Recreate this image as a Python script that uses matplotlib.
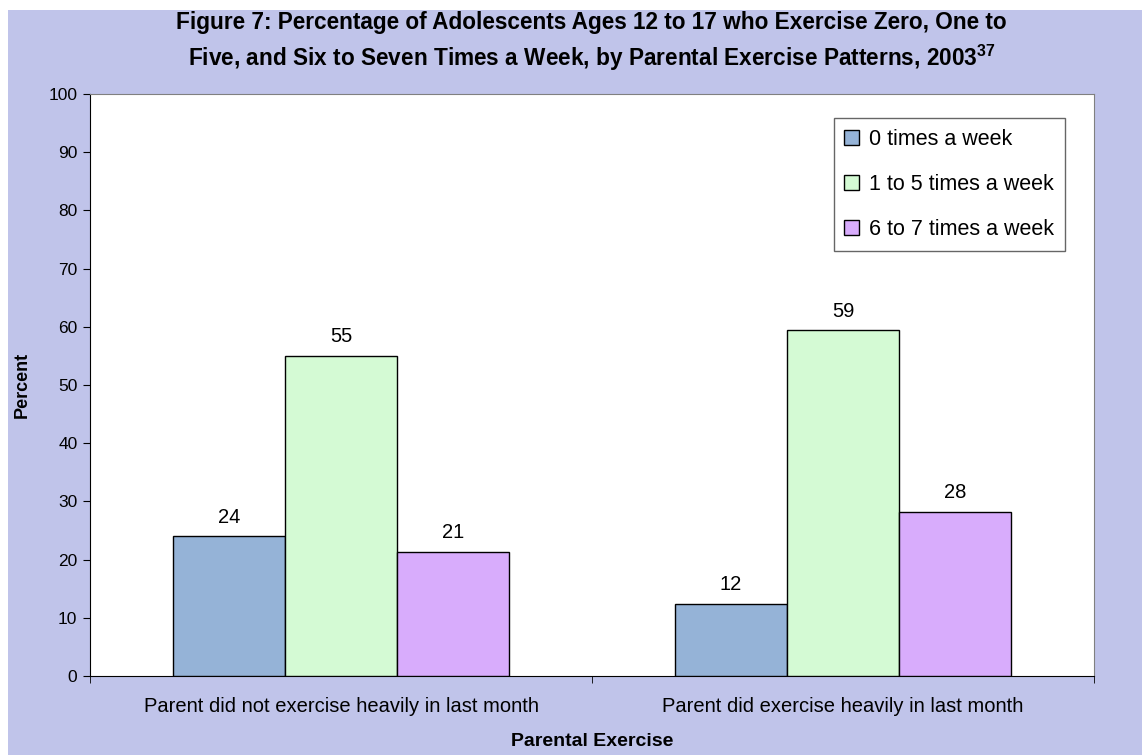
import matplotlib.pyplot as plt
from matplotlib.patches import Rectangle

# данные
groups = ["Parent did not exercise heavily in last month",
          "Parent did exercise heavily in last month"]
series_names = ["0 times a week", "1 to 5 times a week", "6 to 7 times a week"]
zero_times = [24.0, 12.4]
one_to_five = [55.0, 59.4]
six_to_seven = [21.3, 28.2]
y_ticks = [0, 10, 20, 30, 40, 50, 60, 70, 80, 90, 100]

colors = ["#95B3D7", "#D4FAD4", "#D8ACFC"]

plt.rcParams['font.family'] = ['Liberation Sans', 'DejaVu Sans']
plt.rcParams['mathtext.fontset'] = 'custom'
plt.rcParams['mathtext.rm'] = 'Liberation Sans'
plt.rcParams['mathtext.bf'] = 'Liberation Sans:bold'

W, H = 1142, 755
fig = plt.figure(figsize=(W / 100, H / 100), dpi=100)
fig.patch.set_facecolor('white')

# лавандовый фон
fig.add_artist(Rectangle((8 / W, 0), 1 - 8 / W, 1 - 10 / H, transform=fig.transFigure,
                         facecolor='#C0C4EA', edgecolor='none', zorder=-10))

ax = fig.add_axes([90 / W, 1 - 676 / H, (1094 - 90) / W, (676 - 94) / H])
ax.set_facecolor('white')

width = 0.223
x = [0, 1]
all_series = [zero_times, one_to_five, six_to_seven]
for i, (name, vals) in enumerate(zip(series_names, all_series)):
    pos = [xi + (i - 1) * width for xi in x]
    bars = ax.bar(pos, vals, width, color=colors[i], edgecolor='black',
                  linewidth=1.0, label=name, zorder=3)
    ax.bar_label(bars, fmt='%.0f', padding=7, fontsize=14.5)

ax.set_xlim(-0.5, 1.5)
ax.set_ylim(0, 100)
ax.set_yticks(y_ticks)
ax.tick_params(axis='y', direction='out', length=5, labelsize=12.5, pad=4)

ax.set_xticks(x)
ax.set_xticklabels(groups, fontsize=14.5)
ax.set_xticks([-0.5, 0.5, 1.5], minor=True)
ax.tick_params(axis='x', which='major', length=0, pad=15)
ax.tick_params(axis='x', which='minor', direction='out', length=5)

for s in ['top', 'right']:
    ax.spines[s].set_color('#808080')
for s in ['left', 'bottom']:
    ax.spines[s].set_color('black')

leg = ax.legend(loc='upper right', bbox_to_anchor=(0.971, 0.959), borderaxespad=0,
                fontsize=15.5, frameon=True, fancybox=False, edgecolor='#404040',
                handlelength=0.7, handleheight=0.7, handletextpad=0.45,
                labelspacing=1.12, borderpad=0.5)
leg.get_frame().set_linewidth(1.0)

# заголовок
fig.text(0.518, 1 - 23 / H,
         "Figure 7: Percentage of Adolescents Ages 12 to 17 who Exercise Zero, One to",
         ha='center', va='center', fontsize=16.3, fontweight='bold')
fig.text(0.518, 1 - 58 / H,
         "Five, and Six to Seven Times a Week, by Parental Exercise Patterns, 2003$^{\\mathbf{37}}$",
         ha='center', va='center', fontsize=16.3, fontweight='bold')

fig.text(22 / W, 1 - 385 / H, "Percent", rotation=90, ha='center', va='center',
         fontsize=13, fontweight='bold')
fig.text(592 / W, 1 - 741 / H, "Parental Exercise", ha='center', va='center',
         fontsize=14, fontweight='bold')

plt.savefig("out.png", dpi=100)
